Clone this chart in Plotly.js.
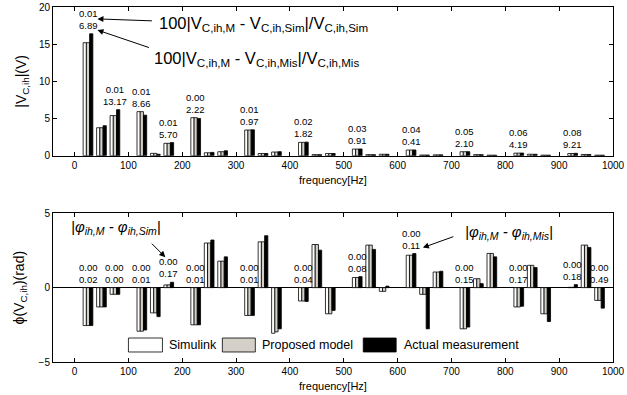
<!DOCTYPE html>
<html>
<head>
<meta charset="utf-8">
<script src="https://cdn.plot.ly/plotly-3.0.1.min.js"></script>
<style>html,body{margin:0;padding:0;background:#fff;}#chart{width:627px;height:395px;}</style>
</head>
<body>
<div id="chart"></div>
<script>
// ---- data ----
const freqs = [25,50,75,125,150,175,225,250,275,325,350,375,425,450,475,525,550,575,625,650,675,725,750,775,825,850,875,925,950,975];

const magSimulink = [15.2,3.77,5.4,5.93,0.32,1.67,5.12,0.4,0.54,3.46,0.3,0.5,1.8,0.15,0.3,0.9,0.15,0.2,0.77,0.1,0.12,0.54,0.15,0.08,0.35,0.2,0.08,0.3,0.17,0.08];
const magModel    = [15.2,3.77,5.4,5.93,0.32,1.67,5.12,0.4,0.54,3.46,0.3,0.5,1.8,0.15,0.3,0.9,0.15,0.2,0.77,0.1,0.12,0.54,0.15,0.08,0.35,0.2,0.08,0.3,0.17,0.08];
const magMeasured = [16.4,4.04,6.2,5.46,0.2,1.77,5.01,0.45,0.67,3.49,0.3,0.55,1.83,0.15,0.3,0.91,0.15,0.2,0.78,0.1,0.12,0.55,0.15,0.08,0.365,0.2,0.08,0.33,0.17,0.08];

const phSimulink = [-2.55,-1.3,-0.45,-2.93,-1.7,0.18,-2.5,3.0,1.78,-1.87,3.08,-3.07,-0.9,2.9,-1.76,0.68,2.86,-0.25,2.18,-0.45,1.05,-2.77,0.6,2.3,-1.3,1.5,-1.76,0.02,2.86,-0.86];
const phModel    = [-2.55,-1.3,-0.45,-2.93,-1.7,0.19,-2.5,3.0,1.78,-1.87,3.08,-2.97,-0.9,2.9,-1.76,0.68,2.86,-0.25,2.18,-0.45,1.05,-2.77,0.6,2.3,-1.3,1.5,-1.76,0.02,2.86,-0.86];
const phMeasured = [-2.55,-1.3,-0.45,-2.85,-1.95,0.36,-2.5,3.2,2.07,-1.87,3.49,-2.77,-0.93,2.52,-1.53,0.74,2.57,0.1,2.29,-2.77,1.1,-2.65,0.27,2.07,-1.25,1.35,-2.28,0.2,2.7,-1.38];

const magLabelFreqs = [25,75,125,175,225,325,425,525,625,725,825,925];
const magErrSim = ['0.01','0.01','0.01','0.01','0.00','0.01','0.02','0.03','0.04','0.05','0.06','0.08'];
const magErrMis = ['6.89','13.17','8.66','5.70','2.22','0.97','1.82','0.91','0.41','2.10','4.19','9.21'];

const phLabelFreqs = [25,75,125,175,225,325,425,525,625,725,825,925,975];
const phErrSim = ['0.00','0.00','0.00','0.00','0.00','0.00','0.00','0.00','0.00','0.00','0.00','0.00','0.00'];
const phErrMis = ['0.02','0.00','0.01','0.17','0.01','0.01','0.04','0.08','0.11','0.15','0.17','0.18','0.49'];

const seriesNames = ['Simulink','Proposed model','Actual measurement'];
const xTicks = [0,100,200,300,400,500,600,700,800,900,1000];

// ---- styling ----
const FONT = 'Liberation Sans, Arial, Helvetica, sans-serif';
const colors = ['#ffffff','#d4d0c8','#000000'];

function barTrace(y, i, xa, ya){
  return {type:'bar', x:freqs, y:y, name:seriesNames[i], xaxis:xa, yaxis:ya,
    marker:{color:colors[i], line:{color:'#000', width:0.8}}, showlegend:false, hoverinfo:'x+y'};
}
const data = [
  barTrace(magSimulink,0,'x','y'), barTrace(magModel,1,'x','y'), barTrace(magMeasured,2,'x','y'),
  barTrace(phSimulink,0,'x2','y2'), barTrace(phModel,1,'x2','y2'), barTrace(phMeasured,2,'x2','y2')
];

function groupMax(f, arrs){
  const i = freqs.indexOf(f);
  return Math.max(0, ...arrs.map(a=>a[i]));
}

const annotations = [];
magLabelFreqs.forEach((f,k)=>{
  annotations.push({xref:'x', yref:'y', x:f, y:groupMax(f,[magSimulink,magModel,magMeasured]),
    yanchor:'bottom', yshift:1, showarrow:false, text:magErrSim[k]+'<br>'+magErrMis[k],
    font:{family:FONT,size:9.5,color:'#000'}});
});
phLabelFreqs.forEach((f,k)=>{
  annotations.push({xref:'x2', yref:'y2', x:f, y:groupMax(f,[phSimulink,phModel,phMeasured]),
    yanchor:'bottom', yshift:1, showarrow:false, text:phErrSim[k]+'<br>'+phErrMis[k],
    font:{family:FONT,size:9.5,color:'#000'}});
});

// descriptive texts and arrows
annotations.push(
  {xref:'paper', yref:'paper', x:0.1864, y:0.952, xanchor:'left', yanchor:'middle', showarrow:false,
   text:'100|V<sub>C,ih,M</sub> - V<sub>C,ih,Sim</sub>|/V<sub>C,ih,Sim</sub>', font:{family:FONT,size:16.5,color:'#000'}},
  {xref:'paper', yref:'paper', x:0.1775, y:0.8535, xanchor:'left', yanchor:'middle', showarrow:false,
   text:'100|V<sub>C,ih,M</sub> - V<sub>C,ih,Mis</sub>|/V<sub>C,ih,Mis</sub>', font:{family:FONT,size:16.5,color:'#000'}},
  {xref:'x', yref:'y', x:42.5, y:18.4, ax:56, ay:2, text:'', showarrow:true, arrowhead:2, arrowsize:1.2, arrowwidth:1, arrowcolor:'#000'},
  {xref:'x', yref:'y', x:42.5, y:16.9, ax:53, ay:18, text:'', showarrow:true, arrowhead:2, arrowsize:1.2, arrowwidth:1, arrowcolor:'#000'},
  {xref:'paper', yref:'paper', x:0.0277, y:0.3775, xanchor:'left', yanchor:'middle', showarrow:false,
   text:'<i>|φ<sub>ih,M</sub> - φ<sub>ih,Sim</sub>|</i>', font:{family:FONT,size:15,color:'#000'}},
  {xref:'paper', yref:'paper', x:0.7324, y:0.3634, xanchor:'left', yanchor:'middle', showarrow:false,
   text:'<i>|φ<sub>ih,M</sub> - φ<sub>ih,Mis</sub>|</i>', font:{family:FONT,size:15,color:'#000'}},
  {xref:'x2', yref:'y2', x:168.6, y:2.05, ax:-15, ay:-15, text:'', showarrow:true, arrowhead:2, arrowsize:1.2, arrowwidth:1, arrowcolor:'#000'},
  {xref:'x2', yref:'y2', x:646.9, y:2.69, ax:32, ay:-11.5, text:'', showarrow:true, arrowhead:2, arrowsize:1.2, arrowwidth:1, arrowcolor:'#000'}
);

// manual legend
const legendItems = [
  {x0:0.1347, x1:0.1954, tx:0.2043},
  {x0:0.3024, x1:0.3613, tx:0.3702},
  {x0:0.5540, x1:0.6128, tx:0.6239}
];
const shapes = [];
legendItems.forEach((it,i)=>{
  shapes.push({type:'rect', xref:'paper', yref:'paper', x0:it.x0, x1:it.x1, y0:0.0282, y1:0.0676,
    fillcolor:colors[i], line:{color:'#000', width:0.8}});
  annotations.push({xref:'paper', yref:'paper', x:it.tx, y:0.0479, xanchor:'left', yanchor:'middle',
    showarrow:false, text:seriesNames[i], font:{family:FONT,size:12.5,color:'#000'}});
});

const xaxisBase = {range:[-40,1000], tickvals:xTicks, ticks:'inside', ticklen:4, tickwidth:1, tickcolor:'#000',
  showline:true, linecolor:'#000', linewidth:1, mirror:'ticks', showgrid:false, zeroline:false,
  tickfont:{family:FONT,size:10,color:'#000'},
  title:{text:'frequency[Hz]', font:{family:FONT,size:11,color:'#000'}, standoff:6}};

const layout = {
  width:627, height:395,
  margin:{l:52.5, r:14, t:7, b:33},
  paper_bgcolor:'#fff', plot_bgcolor:'#fff',
  barmode:'group', bargap:0.28, bargroupgap:0,
  showlegend:false,
  font:{family:FONT, color:'#000'},
  xaxis:Object.assign({}, xaxisBase, {domain:[0,1], anchor:'y'}),
  xaxis2:Object.assign({}, xaxisBase, {domain:[0,1], anchor:'y2'}),
  yaxis:{domain:[0.581,1], range:[0,20], tickvals:[0,5,10,15,20], ticks:'inside', ticklen:4, tickcolor:'#000',
    showline:true, linecolor:'#000', linewidth:1, mirror:'ticks', showgrid:false, zeroline:false,
    tickfont:{family:FONT,size:10,color:'#000'},
    title:{text:'|V<sub>C,ih</sub>|(V)', font:{family:FONT,size:14,color:'#000'}, standoff:8}},
  yaxis2:{domain:[0,0.419], range:[-5,5], tickvals:[-5,0,5], ticks:'inside', ticklen:4, tickcolor:'#000',
    showline:true, linecolor:'#000', linewidth:1, mirror:'ticks', showgrid:false,
    zeroline:true, zerolinecolor:'#000', zerolinewidth:1,
    tickfont:{family:FONT,size:10,color:'#000'},
    title:{text:'ϕ(V<sub>C,ih</sub>)(rad)', font:{family:FONT,size:14,color:'#000'}, standoff:10}},
  annotations:annotations,
  shapes:shapes
};

Plotly.newPlot('chart', data, layout, {staticPlot:true, displayModeBar:false});
</script>
</body>
</html>
